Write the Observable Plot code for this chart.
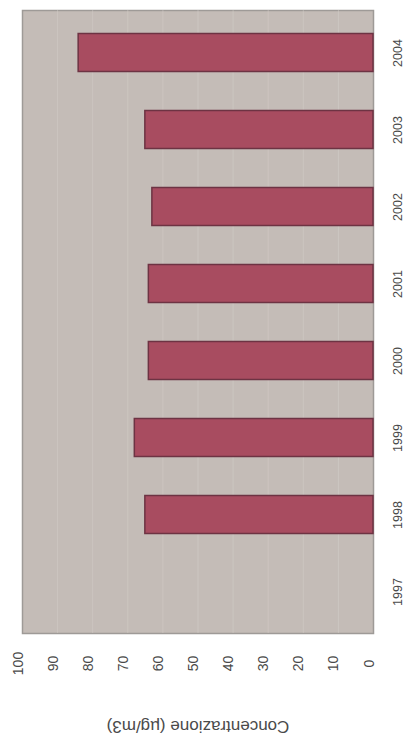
<!DOCTYPE html>
<html>
<head>
<meta charset="utf-8">
<script src="https://cdn.jsdelivr.net/npm/d3@7"></script>
<script src="https://cdn.jsdelivr.net/npm/@observablehq/plot@0.6"></script>
<style>
  html, body { margin: 0; padding: 0; background: #ffffff; }
  #chart svg { display: block; }
</style>
</head>
<body>
<div id="chart"></div>
<script>
const years = ["1997", "1998", "1999", "2000", "2001", "2002", "2003", "2004"];
const values = [null, 65, 68, 64, 64, 63, 65, 84];
const xTicks = [0, 10, 20, 30, 40, 50, 60, 70, 80, 90, 100];
const axisTitle = "Concentrazione (µg/m3)";

const data = years.map((y, i) => ({year: y, value: values[i]}));

const chart = Plot.plot({
  width: 405,
  height: 734,
  marginLeft: 22,
  marginRight: 32,
  marginTop: 10,
  marginBottom: 101,
  style: {fontFamily: "'Liberation Sans', Arial, sans-serif", background: "#ffffff"},
  x: {domain: [0, 100], reverse: true, axis: null},
  y: {domain: years.slice().reverse(), padding: 0, axis: null},
  marks: [
    Plot.frame({fill: "#c4bcb7", stroke: "#9e9a97", strokeWidth: 1.5}),
    Plot.gridX(xTicks.slice(1, -1), {stroke: "#d6d0cc", strokeOpacity: 0.45, strokeWidth: 1}),
    Plot.barX(data, {
      y: "year", x: "value",
      fill: "#a84c60", stroke: "#6d3343", strokeWidth: 1.5,
      insetTop: 19.5, insetBottom: 19.5
    }),
    Plot.text(xTicks, {
      x: d => d, frameAnchor: "bottom", dy: 30, rotate: -90,
      text: d => String(d), fill: "#4a4a4a", fontSize: 14,
      textAnchor: "middle", style: {letterSpacing: "1.8px"}
    }),
    Plot.text(years, {
      y: d => d, frameAnchor: "right", dx: 24, rotate: -90,
      text: d => d, fill: "#4a4a4a", fontSize: 12.5,
      textAnchor: "middle", style: {letterSpacing: "1.5px"}
    }),
    Plot.text([axisTitle], {
      x: () => 50, frameAnchor: "bottom", dy: 87, rotate: 180,
      text: d => d, fill: "#4a4a4a", fontSize: 17,
      textAnchor: "middle", style: {letterSpacing: "2.4px"}
    })
  ]
});
document.getElementById("chart").appendChild(chart);
</script>
</body>
</html>
